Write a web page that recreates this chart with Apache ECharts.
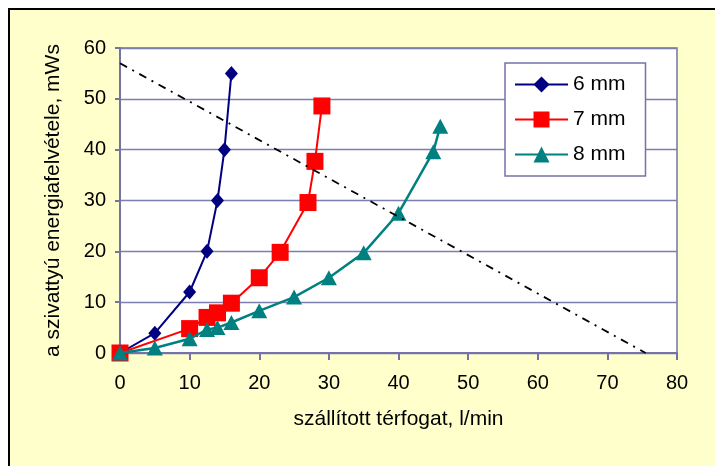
<!DOCTYPE html>
<html>
<head>
<meta charset="utf-8">
<script src="https://cdn.jsdelivr.net/npm/echarts@6/dist/echarts.min.js"></script>
<style>
html,body{margin:0;padding:0;background:#ffffff;overflow:hidden;}
#bg{position:absolute;left:8px;top:8px;width:800px;height:600px;border:2.5px solid #000;background:#FFFFCC;}
#chart{position:absolute;left:0;top:0;width:715px;height:466px;}
</style>
</head>
<body>
<div id="bg"></div>
<div id="chart"></div>
<script>
// Data
const series6mmX = [0, 5, 10, 12.5, 14, 15, 16];
const series6mmY = [0, 3.9, 12, 20, 30, 40, 55];
const series7mmX = [0, 10, 12.5, 14, 16, 20, 23, 27, 28, 29];
const series7mmY = [0, 4.8, 7, 7.9, 9.8, 14.8, 19.8, 29.6, 37.7, 48.6];
const series8mmX = [0, 5, 10, 12.5, 14, 16, 20, 25, 30, 35, 40, 45, 46];
const series8mmY = [0, 1, 2.8, 4.6, 5, 6, 8.3, 11, 14.8, 19.7, 27.5, 39.6, 44.6];
const lineX = [0, 75.5];
const lineY = [57, 0];
const seriesNames = ['6 mm', '7 mm', '8 mm'];
const xTitle = 'szállított térfogat, l/min';
const yTitle = 'a szivattyú energiafelvétele, mWs';

const pairs = (xs, ys) => xs.map((x, i) => [x, ys[i]]);
const font = 'Liberation Sans, Arial, sans-serif';
const axisColor = '#7373A8';

const chart = echarts.init(document.getElementById('chart'), null, {renderer: 'canvas'});
chart.setOption({
  backgroundColor: 'transparent',
  animation: false,
  grid: {left: 120, right: 38, top: 48, bottom: 113, show: true, backgroundColor: '#ffffff', borderColor: axisColor, borderWidth: 1.5},
  legend: {
    data: seriesNames,
    orient: 'vertical',
    left: 505, top: 63,
    padding: [11, 20, 11, 9],
    itemWidth: 53, itemHeight: 20, itemGap: 14,
    backgroundColor: '#ffffff',
    borderColor: axisColor, borderWidth: 1.5,
    textStyle: {fontFamily: font, fontSize: 21, color: '#000'}
  },
  xAxis: {
    type: 'value', min: 0, max: 80, interval: 10,
    name: xTitle, nameLocation: 'middle', nameGap: 56,
    nameTextStyle: {fontFamily: font, fontSize: 21, color: '#000'},
    axisLine: {show: true, lineStyle: {color: axisColor, width: 2}},
    axisTick: {show: true, length: 7, lineStyle: {color: axisColor, width: 2}},
    axisLabel: {fontFamily: font, fontSize: 20, color: '#000', margin: 20},
    splitLine: {show: false}
  },
  yAxis: {
    type: 'value', min: 0, max: 60, interval: 10,
    name: yTitle, nameLocation: 'middle', nameGap: 56,
    nameTextStyle: {fontFamily: font, fontSize: 21, color: '#000'},
    axisLine: {show: true, lineStyle: {color: axisColor, width: 2}},
    axisTick: {show: true, length: 5, lineStyle: {color: axisColor, width: 2}},
    axisLabel: {fontFamily: font, fontSize: 20, color: '#000', margin: 14},
    splitLine: {show: true, lineStyle: {color: '#7E7EB0', width: 1.3}}
  },
  series: [
    {name: seriesNames[0], type: 'line', data: pairs(series6mmX, series6mmY),
     symbol: 'diamond', symbolSize: [13, 15], showAllSymbol: true,
     itemStyle: {color: '#000080'}, lineStyle: {color: '#000080', width: 2}, z: 3},
    {name: seriesNames[1], type: 'line', data: pairs(series7mmX, series7mmY),
     symbol: 'rect', symbolSize: 17, showAllSymbol: true,
     itemStyle: {color: '#FF0000'}, lineStyle: {color: '#FF0000', width: 2}, z: 4},
    {name: seriesNames[2], type: 'line', data: pairs(series8mmX, series8mmY),
     symbol: 'triangle', symbolSize: [16, 15], showAllSymbol: true,
     itemStyle: {color: '#008080'}, lineStyle: {color: '#008080', width: 2.5}, z: 5},
    {name: 'limit', type: 'line', data: pairs(lineX, lineY),
     symbol: 'none', silent: true,
     lineStyle: {color: '#000', width: 1.8, type: [8, 6, 2, 6]}, z: 6}
  ]
});
</script>
</body>
</html>
